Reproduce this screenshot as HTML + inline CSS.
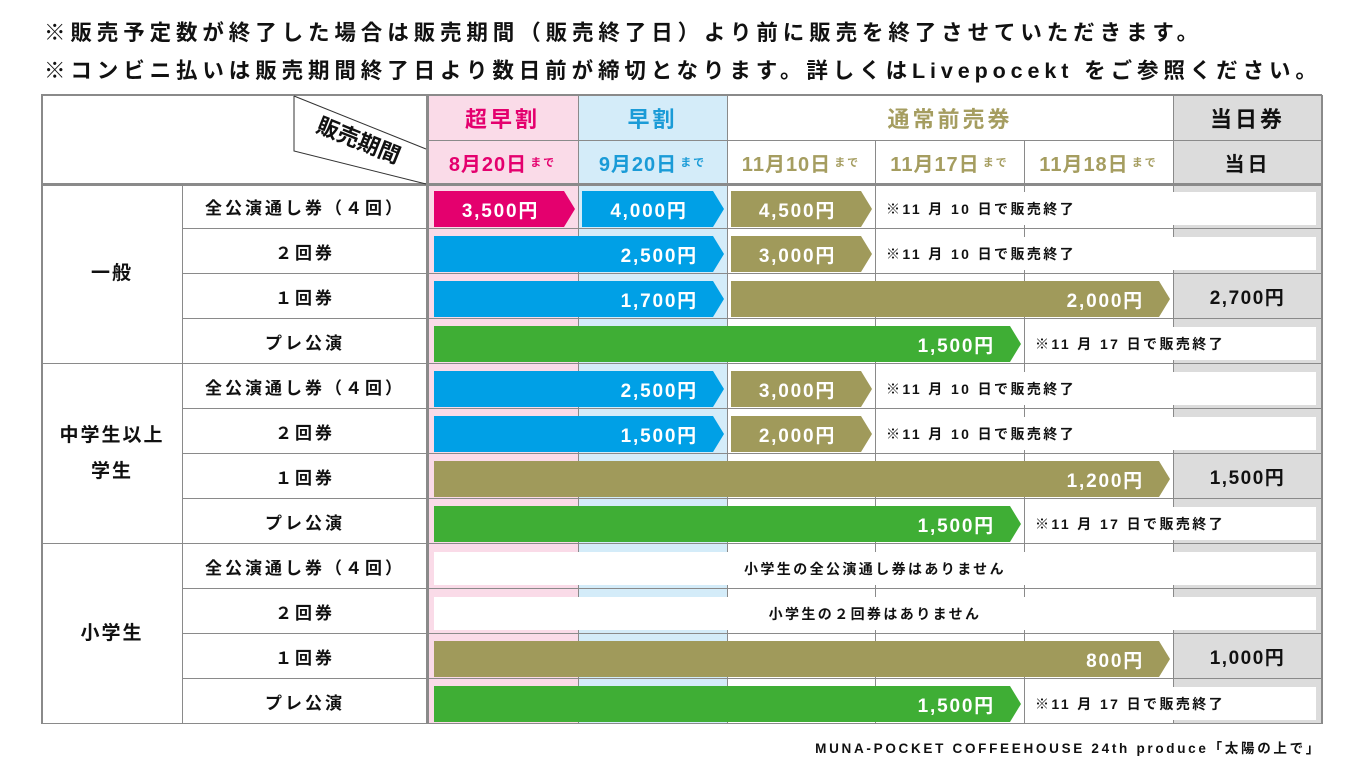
<!DOCTYPE html>
<html><head><meta charset="utf-8">
<style>
body{margin:0;width:1366px;height:768px;background:#fff;position:relative;overflow:hidden;font-family:"Liberation Sans","Noto Sans CJK JP",sans-serif;font-weight:bold;color:#111}
.a{position:absolute}
.t{position:absolute;left:44px;font-size:21.5px;letter-spacing:4.9px;white-space:nowrap}
.c{display:flex;align-items:center;justify-content:center;white-space:nowrap}
.bar{position:absolute;color:#fff;font-size:19px;letter-spacing:1.8px;display:flex;align-items:center}
.note{position:absolute;background:#fff;font-size:14px;letter-spacing:2.4px;display:flex;align-items:center}
</style></head><body>
<div class="t" style="top:16px">※販売予定数が終了した場合は販売期間（販売終了日）より前に販売を終了させていただきます。</div>
<div class="t" style="top:54px">※コンビニ払いは販売期間終了日より数日前が締切となります。詳しくはLivepocekt をご参照ください。</div>
<div id="tbl"></div>
<div class="a" style="right:44px;top:737px;font-size:13.5px;letter-spacing:2.7px">MUNA-POCKET COFFEEHOUSE 24th produce「太陽の上で」</div>
<script>
const groups=["一般","中学生以上\n学生","小学生"];
const ticketTypes=["全公演通し券（４回）","２回券","１回券","プレ公演"];
const periodHeads=["超早割","早割","通常前売券","当日券"];
const periodDates=["8月20日","9月20日","11月10日","11月17日","11月18日"];
// segments per row: [startPeriod,endPeriod,price,colorKey]
const rowSegments=[
 [[0,0,"3,500円","p"],[1,1,"4,000円","b"],[2,2,"4,500円","o"]],
 [[0,1,"2,500円","b"],[2,2,"3,000円","o"]],
 [[0,1,"1,700円","b"],[2,4,"2,000円","o"]],
 [[0,3,"1,500円","g"]],
 [[0,1,"2,500円","b"],[2,2,"3,000円","o"]],
 [[0,1,"1,500円","b"],[2,2,"2,000円","o"]],
 [[0,4,"1,200円","o"]],
 [[0,3,"1,500円","g"]],
 [],[],
 [[0,4,"800円","o"]],
 [[0,3,"1,500円","g"]]
];
const rowNotes=["※11 月 10 日で販売終了","※11 月 10 日で販売終了","","※11 月 17 日で販売終了","※11 月 10 日で販売終了","※11 月 10 日で販売終了","","※11 月 17 日で販売終了","小学生の全公演通し券はありません","小学生の２回券はありません","","※11 月 17 日で販売終了"];
const dayPrices=["","","2,700円","","","","1,500円","","","","1,000円",""];

const col=[41,183,427,578,727,875,1024,1173,1322];
const rowY=i=>184+45*i, RH=45;
const colors={p:"#e4006e",b:"#00a0e6",o:"#a09a5b",g:"#3fae35"};
const T=document.getElementById('tbl');
function box(x,y,w,h,css,txt,name){const d=document.createElement('div');d.className='a';d.style.cssText=`left:${x}px;top:${y}px;width:${w}px;height:${h}px;`+css;if(txt!==undefined)d.textContent=txt;


T.appendChild(d);return d;}
box(col[2],95,col[3]-col[2],629,"background:#fadbe8","","col-bg-super-early");
box(col[3],95,col[4]-col[3],629,"background:#d4ecf9","","col-bg-early");
box(col[7],95,col[8]-col[7],629,"background:#dcdcdc","","col-bg-day");
const G="background:#8a8a8a";
for(let i=0;i<=12;i++){box(183,rowY(i)-1,1139,1,G,"","row-line");}
[0,4,8,12].forEach(i=>box(41,rowY(i)-1,142,1,G,"","group-line"));
box(41,183,1281,3,G,"","header-bottom-line");
box(41,94,1281,2,G,"","table-top-line");
box(427,140,746,1,G,"","header-mid-line");
box(1173,140,149,1,G,"","header-mid-line");
box(41,95,2,629,G,"","left-border");box(1321,95,2,629,G,"","right-border");
box(182,184,1,540,G,"","group-col-line");
box(426,95,3,629,G,"","label-col-line");
[3,4,7].forEach(k=>box(col[k],95,1,629,G,"","period-line"));
[5,6].forEach(k=>box(col[k],140,1,584,G,"","period-line"));
const hc=["#e4006e","#1a9bd7","#a59d60","#111"];
const hx=[[427,578],[578,727],[727,1173],[1173,1322]];
hx.forEach((r,i)=>box(r[0],95,r[1]-r[0],45,`color:${hc[i]};font-size:22px;letter-spacing:3px`,periodHeads[i],"period-header").classList.add('c'));
const dc=["#e4006e","#1a9bd7","#a59d60","#a59d60","#a59d60"];
periodDates.forEach((d,i)=>{const e=box(col[i+2],140,col[i+3]-col[i+2],44,`color:${dc[i]};font-size:20px;letter-spacing:1px`,"",`period-date-${i}`);e.classList.add('c');e.innerHTML=d+'<span style="font-size:11px;margin-left:3px;letter-spacing:2px">まで</span>';});
box(1173,140,149,44,"font-size:20px;letter-spacing:3px","当日","day-date").classList.add('c');
const s=document.createElementNS("http://www.w3.org/2000/svg","svg");
s.setAttribute('width','140');s.setAttribute('height','92');s.style.cssText="position:absolute;left:290px;top:94px";


s.innerHTML='<polyline points="4,2 4,57 136,90" fill="none" stroke="#333" stroke-width="1"/><line x1="4" y1="2" x2="136" y2="55" stroke="#333"/><text x="68" y="54" transform="rotate(22 68 48)" text-anchor="middle" font-size="22" font-weight="bold" font-family="Liberation Sans,Noto Sans CJK JP,sans-serif" fill="#111">販売期間</text>';
T.appendChild(s);
groups.forEach((g,i)=>{const e=box(41,rowY(i*4),142,180,"font-size:19px;text-align:center;white-space:pre-line;line-height:36px;letter-spacing:2px",g,"group-label");e.classList.add('c');});
for(let r=0;r<12;r++){
 const y=rowY(r);
 box(183,y,244,RH,"font-size:17px;letter-spacing:3px",ticketTypes[r%4],"ticket-type").classList.add('c');
 let end=434;
 rowSegments[r].forEach((sg,k)=>{
  const x0=col[sg[0]+2]+(sg[0]===0?7:4), x1=col[sg[1]+3]-3;
  const b=box(x0,y+7,x1-x0,36,`background:${colors[sg[3]]};clip-path:polygon(0 0,calc(100% - 11px) 0,100% 50%,calc(100% - 11px) 100%,0 100%);`+(sg[0]===sg[1]?"justify-content:center;padding-right:8px;box-sizing:border-box":"justify-content:flex-end;padding-right:26px;box-sizing:border-box"),sg[2],"price-bar");
  b.className='bar';end=x1;
 });
 if(rowNotes[r]){
  const x=rowSegments[r].length?end+4:434;
  const n=box(x,y+8,1316-x,33,rowSegments[r].length?"padding-left:10px;box-sizing:border-box":"justify-content:center",rowNotes[r],"sale-note");n.className='note';
 }
 if(dayPrices[r]){box(1173,y,149,RH,"font-size:19px;letter-spacing:1.5px",dayPrices[r],"day-price").classList.add('c');}
}
</script>
</body></html>
